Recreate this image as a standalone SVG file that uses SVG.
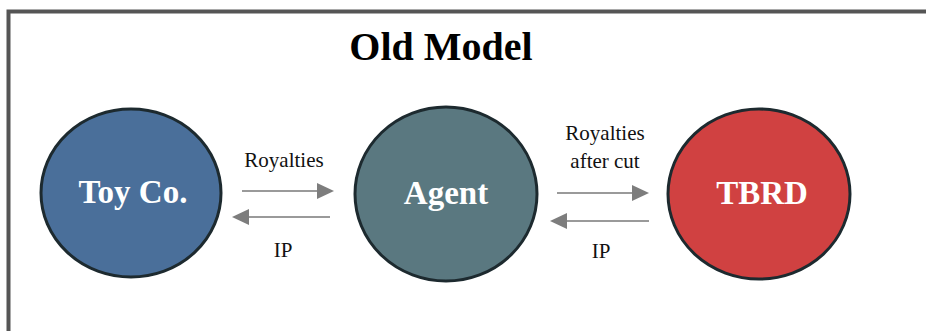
<svg xmlns="http://www.w3.org/2000/svg" width="926" height="331" viewBox="0 0 926 331">
<style>
.node{stroke:#1d2a2f;stroke-width:3}
.nlabel{font-family:"Liberation Serif",serif;font-weight:bold;font-size:33px;fill:#fff;text-anchor:middle}
.elabel{font-family:"Liberation Serif",serif;font-size:21px;fill:#111;text-anchor:middle}
.edge{stroke:#9a9a9a;stroke-width:2;fill:none}
.head{fill:#7d7d7d}
</style>
<rect width="926" height="331" fill="#fff"/>
<path d="M8.5 340 V11.5 H940" fill="none" stroke="#555" stroke-width="4"/>
<text x="441" y="60" font-family="Liberation Serif,serif" font-weight="bold" font-size="40" text-anchor="middle" fill="#000">Old Model</text>
<g id="toyco">
<ellipse class="node" cx="131" cy="193" rx="90" ry="84" fill="#4a6f9a"/>
<text class="nlabel" x="133" y="203">Toy Co.</text>
</g>
<g id="agent">
<ellipse class="node" cx="446" cy="194" rx="91" ry="87" fill="#5a7880"/>
<text class="nlabel" x="446" y="204">Agent</text>
</g>
<g id="tbrd">
<ellipse class="node" cx="759" cy="194" rx="91" ry="85" fill="#d04141"/>
<text class="nlabel" x="762" y="204">TBRD</text>
</g>
<g id="connectors">
<line class="edge" x1="242" y1="191" x2="318" y2="191"/>
<polygon class="head" points="317,183 334,191 317,199"/>
<line class="edge" x1="248" y1="217" x2="330" y2="217"/>
<polygon class="head" points="249,209 232,217 249,225"/>
<line class="edge" x1="557" y1="193" x2="633" y2="193"/>
<polygon class="head" points="632,185 649,193 632,201"/>
<line class="edge" x1="566" y1="221" x2="649" y2="221"/>
<polygon class="head" points="567,213 550,221 567,229"/>
<text class="elabel" x="284" y="167">Royalties</text>
<text class="elabel" x="283" y="257">IP</text>
<text class="elabel" x="605" y="140">Royalties</text>
<text class="elabel" x="605" y="168">after cut</text>
<text class="elabel" x="601" y="258">IP</text>
</g>
</svg>
